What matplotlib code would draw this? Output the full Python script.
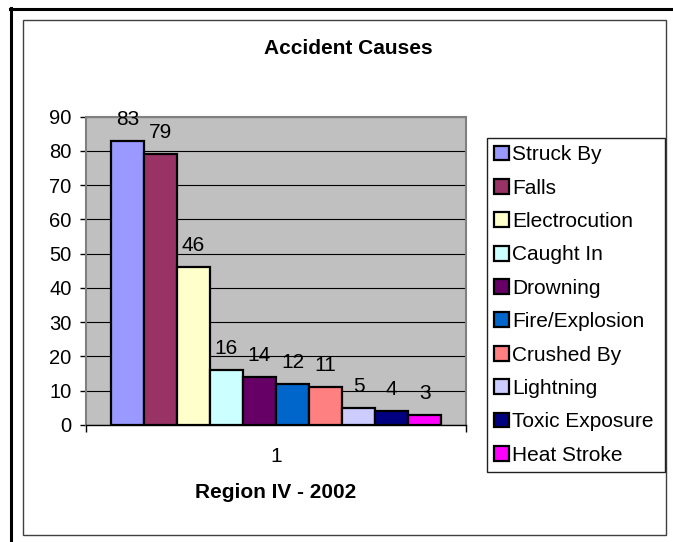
import matplotlib
matplotlib.use("Agg")
import matplotlib.pyplot as plt
from matplotlib.lines import Line2D
from matplotlib.patches import Rectangle
import numpy as np

plt.rcParams['font.family'] = ['Liberation Sans', 'DejaVu Sans']

categories = ["Struck By", "Falls", "Electrocution", "Caught In", "Drowning",
              "Fire/Explosion", "Crushed By", "Lightning", "Toxic Exposure", "Heat Stroke"]
values = [83, 79, 46, 16, 14, 12, 11, 5, 4, 3]
colors = ["#9999FF", "#993366", "#FFFFCC", "#CCFFFF", "#660066",
          "#0066CC", "#FF8080", "#CCCCFF", "#000080", "#FF00FF"]
x_tick_label = "1"
title = "Accident Causes"
x_title = "Region IV - 2002"
y_ticks = [0, 10, 20, 30, 40, 50, 60, 70, 80, 90]

W, H = 673, 542
fig = plt.figure(figsize=(W / 100, H / 100), dpi=100)
fig.patch.set_facecolor("white")

def fx(px):
    return px / W

def fy(py):
    return 1 - py / H

# outer frame (top & left only visible)
fig.add_artist(Line2D([fx(10), fx(673)], [fy(9), fy(9)], color="black", lw=2.2, transform=fig.transFigure))
fig.add_artist(Line2D([fx(11), fx(11)], [fy(8), fy(542)], color="black", lw=2.2, transform=fig.transFigure))
# inner chart-area frame
fig.add_artist(Rectangle((fx(22.5), fy(535)), fx(666) - fx(22.5), fy(20) - fy(535),
                         transform=fig.transFigure, fill=False, edgecolor="#404040", lw=1.0))

left, right, top, bottom = 86, 466, 116.7, 425
ax = fig.add_axes([fx(left), fy(bottom), fx(right) - fx(left), fy(top) - fy(bottom)])
ax.set_facecolor("#C0C0C0")
for s in ["top", "right", "left"]:
    ax.spines[s].set_color("#808080")
    ax.spines[s].set_linewidth(1.5)
ax.spines["bottom"].set_color("black")
ax.spines["bottom"].set_linewidth(1.0)

n = len(values)
w = 1 / (n + 1.5)
offsets = (np.arange(n) - (n - 1) / 2) * w
for i, (v, c, lab) in enumerate(zip(values, colors, categories)):
    ax.bar(offsets[i], v, width=w, color=c, edgecolor="black", linewidth=1.6,
           label=lab, zorder=3)
    ax.annotate(str(v), xy=(offsets[i], v), xytext=(0, 15.5), textcoords="offset points",
                ha="center", va="center", fontsize=15, zorder=4)

ax.set_xlim(-0.5, 0.5)
ax.set_ylim(0, 90)
ax.set_yticks(y_ticks)
ax.yaxis.grid(True, color="black", linewidth=0.8, zorder=1)
ax.set_axisbelow(True)
ax.tick_params(axis="y", direction="out", length=4, width=1, color="black", labelsize=14.5, pad=6.5)

ax.set_xticks([-0.5, 0.5])
ax.set_xticklabels(["", ""])
ax.set_xticks([0], minor=True)
ax.set_xticklabels([x_tick_label], minor=True)
ax.tick_params(axis="x", which="major", direction="out", length=5, width=1, color="black")
ax.tick_params(axis="x", which="minor", length=0, labelsize=15, pad=16)

fig.text(fx(348), fy(48), title, ha="center", va="center", fontsize=15, fontweight="bold")
fig.text(fx(276), fy(493), x_title, ha="center", va="center", fontsize=15, fontweight="bold")

leg = fig.legend(loc="upper left", bbox_to_anchor=(fx(487), fy(474), fx(665) - fx(487), fy(138) - fy(474)),
                 bbox_transform=fig.transFigure, mode="expand", borderaxespad=0,
                 fontsize=15, frameon=True, fancybox=False, framealpha=1,
                 edgecolor="#202020", handlelength=0.72, handleheight=0.72,
                 handletextpad=0.12, labelspacing=0.69, borderpad=0.35)
leg.get_frame().set_linewidth(1.0)

fig.savefig("out.png", dpi=100, facecolor="white")
